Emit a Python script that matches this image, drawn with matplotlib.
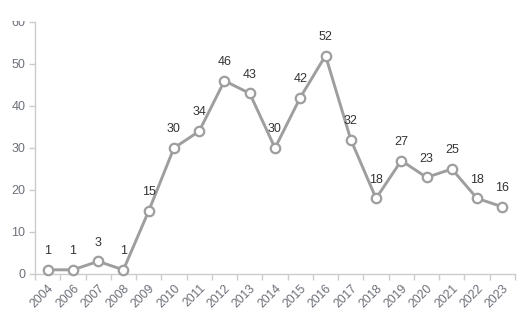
import matplotlib
matplotlib.use("Agg")
import matplotlib.pyplot as plt
from matplotlib.patches import Rectangle
import numpy as np

years = ["2004", "2006", "2007", "2008", "2009", "2010", "2011", "2012", "2013", "2014",
         "2015", "2016", "2017", "2018", "2019", "2020", "2021", "2022", "2023"]
counts = [1, 1, 3, 1, 15, 30, 34, 46, 43, 30, 42, 52, 32, 18, 27, 23, 25, 18, 16]
yticks = [0, 10, 20, 30, 40, 50, 60]

plt.rcParams['font.family'] = ['Liberation Sans', 'DejaVu Sans']

W, H = 528, 325
fig = plt.figure(figsize=(W / 100, H / 100), dpi=100)
ax = fig.add_axes([35 / W, (H - 274) / H, (515 - 35) / W, (274 - 22) / H])

x = np.arange(len(years))
ax.plot(x, counts, color="#9e9e9e", linewidth=2.1, marker="o", markersize=6.8,
        markerfacecolor="white", markeredgecolor="#9e9e9e", markeredgewidth=1.6,
        zorder=3, clip_on=False)

for xi, v in zip(x, counts):
    ax.annotate(str(v), (xi, v), xytext=(0, 13.5), textcoords="offset points",
                ha="center", va="center", fontsize=9, color="#333333")

ax.set_xlim(-0.5, len(years) - 0.5)
ax.set_ylim(0, 60)

ax.set_xticks(x)
ax.set_xticklabels(years, rotation=45, ha="right", rotation_mode="anchor",
                   fontsize=8.8, color="#6e7079")
ax.set_xticks(np.arange(len(years) + 1) - 0.5, minor=True)
ax.tick_params(axis="x", which="major", length=0, pad=6)
ax.tick_params(axis="x", which="minor", length=4, color="#cccccc", width=1)

ax.set_yticks(yticks)
ax.set_yticklabels([str(t) for t in yticks], fontsize=9, color="#6e7079")
ax.tick_params(axis="y", length=4, color="#cccccc", width=1, pad=3)

for s in ["top", "right"]:
    ax.spines[s].set_visible(False)
for s in ["left", "bottom"]:
    ax.spines[s].set_color("#cccccc")
    ax.spines[s].set_linewidth(1)

# the top of the "60" label is cut off in the reference
fig.patches.append(Rectangle((0, (H - 21) / H), 34 / W, 21 / H, transform=fig.transFigure,
                             facecolor="white", edgecolor="none", zorder=10))

fig.savefig("out.png", dpi=100)
